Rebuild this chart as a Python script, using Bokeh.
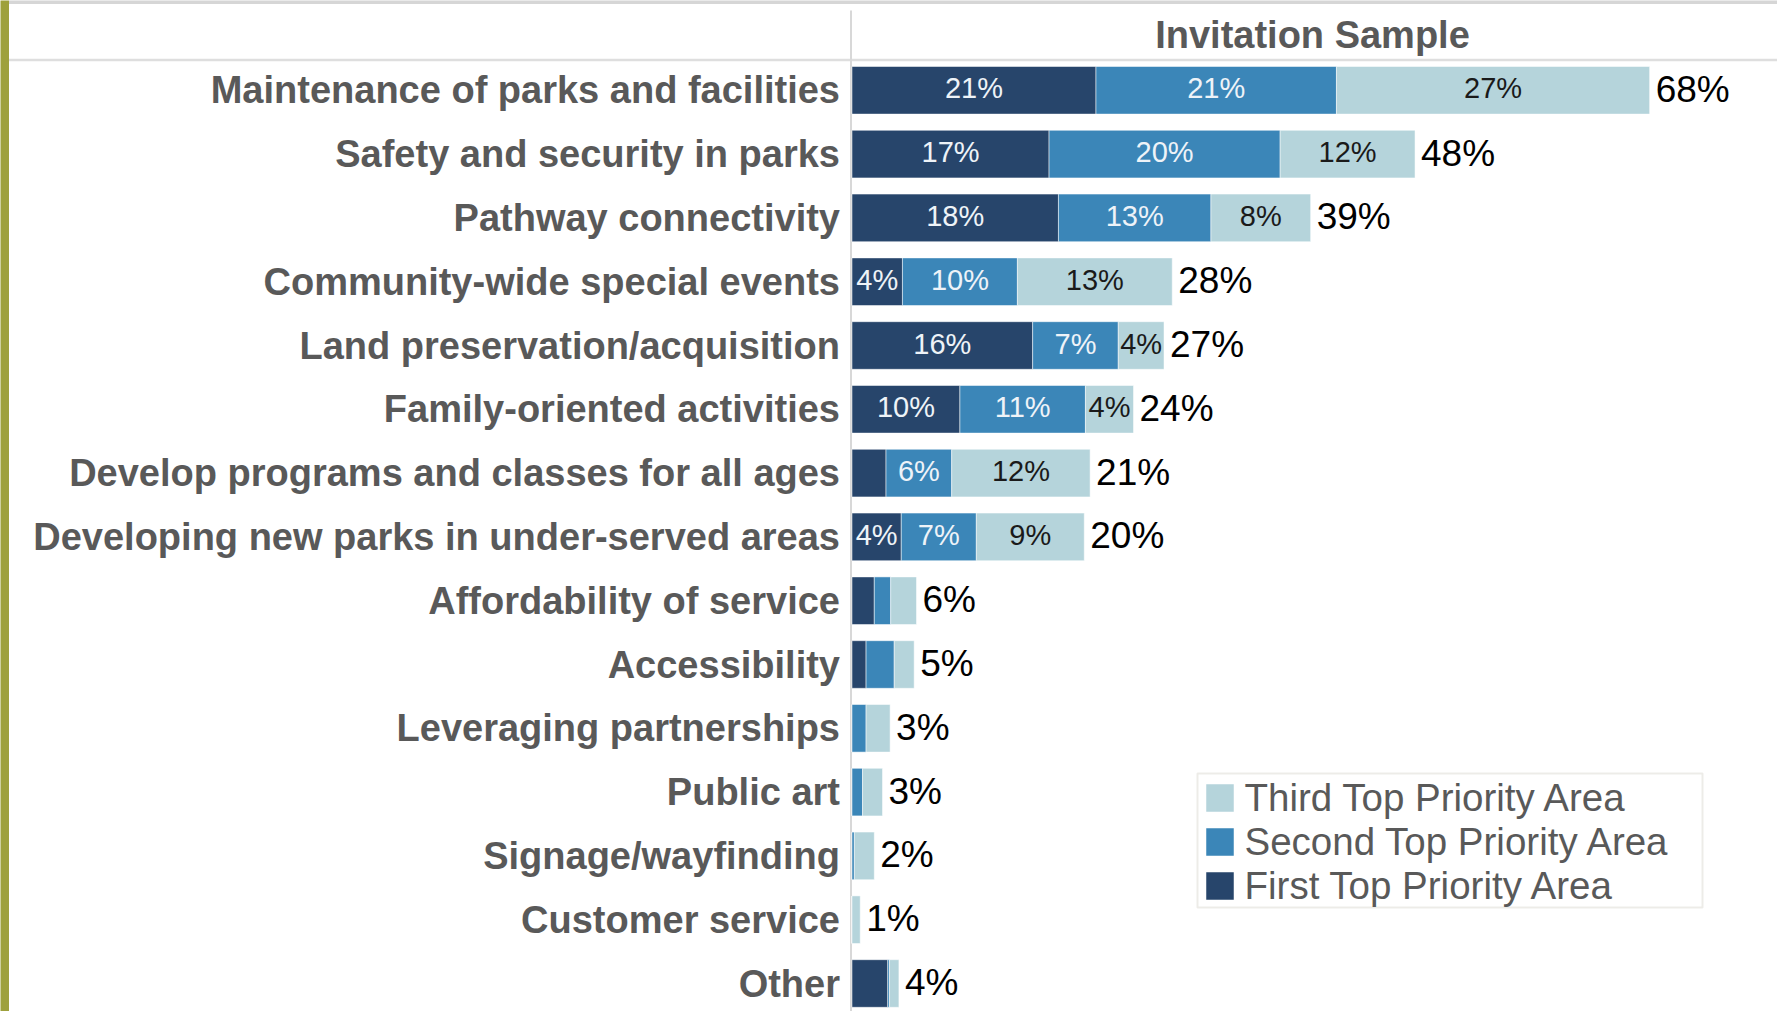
import numpy as np
from bokeh.plotting import figure
from bokeh.models import Range1d, ColumnDataSource, Legend, LegendItem, Label, BoxAnnotation
from bokeh.embed import file_html
from bokeh.resources import INLINE
from bokeh.core.properties import value

# ---------------- data ----------------
categories = [
    "Maintenance of parks and facilities",
    "Safety and security in parks",
    "Pathway connectivity",
    "Community-wide special events",
    "Land preservation/acquisition",
    "Family-oriented activities",
    "Develop programs and classes for all ages",
    "Developing new parks in under-served areas",
    "Affordability of service",
    "Accessibility",
    "Leveraging partnerships",
    "Public art",
    "Signage/wayfinding",
    "Customer service",
    "Other",
]
first = [20.8, 16.8, 17.6, 4.3, 15.4, 9.2, 2.9, 4.2, 1.9, 1.2, 0.0, 0.0, 0.0, 0.0, 3.05]
second = [20.5, 19.7, 13.0, 9.8, 7.3, 10.7, 5.6, 6.4, 1.4, 2.4, 1.2, 0.9, 0.2, 0.0, 0.15]
third = [26.7, 11.5, 8.5, 13.2, 3.9, 4.1, 11.8, 9.2, 2.2, 1.7, 2.05, 1.7, 1.7, 0.7, 0.8]
first_lbl = ["21%", "17%", "18%", "4%", "16%", "10%", "", "4%", "", "", "", "", "", "", ""]
second_lbl = ["21%", "20%", "13%", "10%", "7%", "11%", "6%", "7%", "", "", "", "", "", "", ""]
third_lbl = ["27%", "12%", "8%", "13%", "4%", "4%", "12%", "9%", "", "", "", "", "", "", ""]
total_lbl = ["68%", "48%", "39%", "28%", "27%", "24%", "21%", "20%", "6%", "5%", "3%", "3%", "2%", "1%", "4%"]
series_names = ["First Top Priority Area", "Second Top Priority Area", "Third Top Priority Area"]
header = "Invitation Sample"

# ---------------- layout constants (pixels) ----------------
W, H = 1777, 1011
ROW_PX = 63.8
TOP_ROW_PX = 89.8
PX_PER_PCT = 11.73
ZERO_PX = 851.5


def dx(px):
    return (px - ZERO_PX) / PX_PER_PCT


def dy(py):
    return (py - TOP_ROW_PX) / ROW_PX


C_DARK = "#27456b"
C_MID = "#3b86b8"
C_LIGHT = "#b5d4db"
GRAY_TXT = "#595959"
FONT = "Liberation Sans"

f = np.array(first)
s = np.array(second)
t = np.array(third)
src = ColumnDataSource(dict(
    y=list(range(len(categories))), cat=categories,
    first=first, second=second, third=third,
    first_mid=f / 2, second_mid=f + s / 2, third_mid=f + s + t / 2, total=f + s + t,
    first_lbl=first_lbl, second_lbl=second_lbl, third_lbl=third_lbl, total_lbl=total_lbl,
))

p = figure(width=W, height=H, x_range=Range1d(dx(0), dx(W)), y_range=Range1d(dy(H), dy(0)),
           output_backend="svg", toolbar_location=None,
           x_axis_location=None, y_axis_location=None, min_border=0)
p.grid.visible = False
p.outline_line_color = None
p.background_fill_color = "white"
p.border_fill_color = "white"

# page decorations: olive side strip, grey top band
p.add_layout(BoxAnnotation(left=dx(-20), right=dx(8.5), top=dy(-20), bottom=dy(H + 20),
                           fill_color="#9ea13c", fill_alpha=1, line_color=None))
p.add_layout(BoxAnnotation(left=dx(8.5), right=dx(W + 20), top=dy(-20), bottom=dy(3.5),
                           fill_color="#d6d6d6", fill_alpha=1, line_color=None))

# separators
p.segment(x0=dx(8.5), y0=dy(59.5), x1=dx(W), y1=dy(59.5), line_color="#dedede", line_width=2.5)
p.segment(x0=dx(850.5), y0=dy(10), x1=dx(850.5), y1=dy(H), line_color="#d8d8d8", line_width=2)

renderers = p.hbar_stack(["first", "second", "third"], y="y", height=0.746,
                         color=[C_DARK, C_MID, C_LIGHT], line_color="white", line_width=0.5,
                         source=src)

# category labels
p.text(x=0, y="y", text="cat", source=src, x_offset=-12, text_align="right",
       text_baseline="middle", text_font=value(FONT), text_font_style="bold",
       text_font_size="38px", text_color=GRAY_TXT)

# segment labels
seg_font = "29px"
p.text(x="first_mid", y="y", text="first_lbl", source=src, text_align="center", y_offset=-2,
       text_baseline="middle", text_font=value(FONT), text_font_size=seg_font, text_color="#eef3f8")
p.text(x="second_mid", y="y", text="second_lbl", source=src, text_align="center", y_offset=-2,
       text_baseline="middle", text_font=value(FONT), text_font_size=seg_font, text_color="#eef3f8")
p.text(x="third_mid", y="y", text="third_lbl", source=src, text_align="center", y_offset=-2,
       text_baseline="middle", text_font=value(FONT), text_font_size=seg_font, text_color="#1a1a1a")
# totals
p.text(x="total", y="y", text="total_lbl", source=src, x_offset=6, y_offset=-1, text_align="left",
       text_baseline="middle", text_font=value(FONT), text_font_size="37px", text_color="#000000")

# header
p.add_layout(Label(x=dx(1312), y=dy(34), text=header,
                   text_align="center", text_baseline="middle", text_font=FONT,
                   text_font_style="bold", text_font_size="38px", text_color=GRAY_TXT))

# legend frame
p.add_layout(BoxAnnotation(left=dx(1197), right=dx(1702), top=dy(773), bottom=dy(907),
                           fill_color="white", fill_alpha=1, line_color="#c4c1b4", line_width=2))

legend = Legend(items=[LegendItem(label=series_names[i], renderers=[renderers[i]]) for i in (2, 1, 0)],
                location=(1201.5, 103.4))
legend.border_line_color = None
legend.background_fill_alpha = 0
legend.label_text_font = FONT
legend.label_text_font_size = "38.5px"
legend.label_text_color = GRAY_TXT
legend.glyph_width = 35
legend.glyph_height = 35
legend.label_standoff = 8
legend.spacing = 0
legend.padding = 1
legend.margin = 0
p.add_layout(legend)

open("out.html", "w").write(file_html(p, INLINE))
